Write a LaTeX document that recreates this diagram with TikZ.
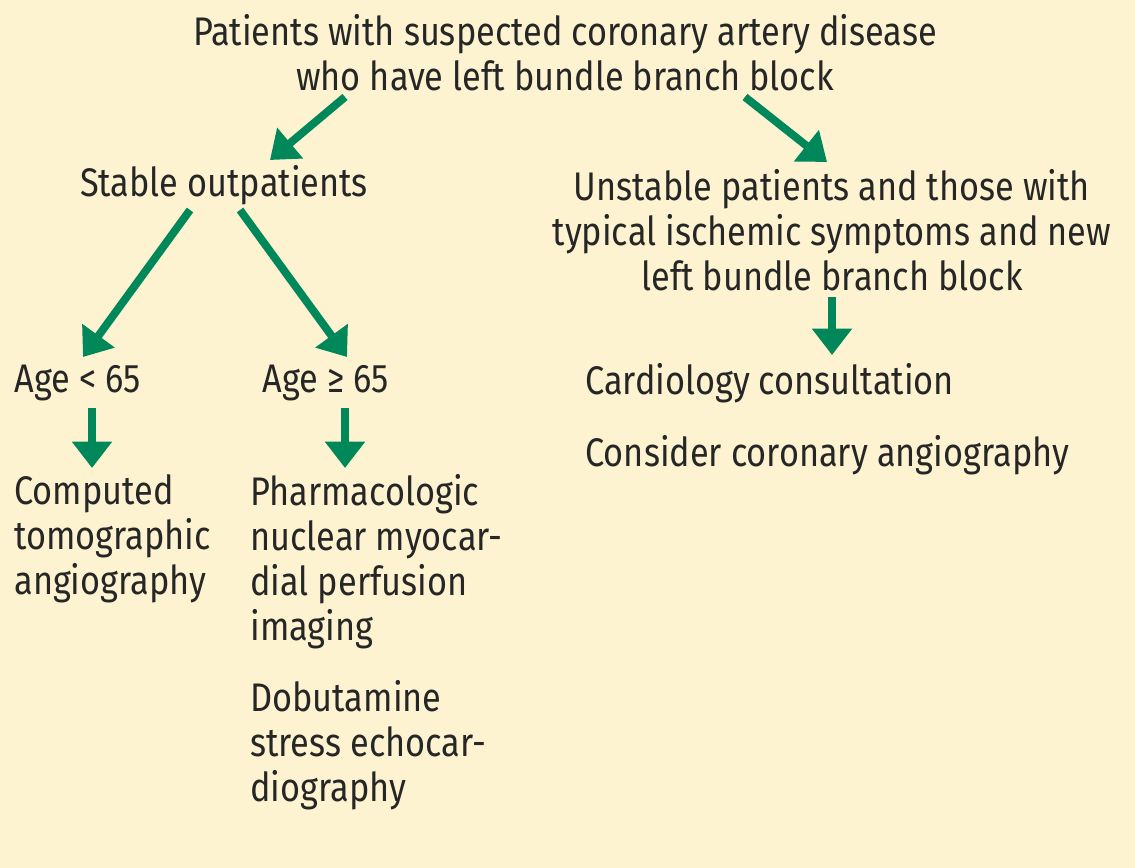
\documentclass[tikz,border=0pt]{standalone}
\usepackage{fontspec}
\setmainfont{Fira Sans}[FakeStretch=0.86]
\usetikzlibrary{arrows.meta}
\definecolor{cream}{HTML}{FDF3D0}
\definecolor{arrgreen}{HTML}{00875A}
\tikzset{
  txt/.style={inner sep=0pt, align=left, font=\fontsize{22.7}{25.6}\selectfont, text=black!85},
  ctxt/.style={txt, align=center},
  arr/.style={draw=arrgreen, line width=4.5pt, -{Triangle[length=15pt,width=22pt]}},
}
\begin{document}
\begin{tikzpicture}[x=0.02cm, y=-0.02cm]
    % Background.
    \fill[cream] (0,0) rectangle (1135,868);

    % Write the texts.
    \node[ctxt] (title) at (565,53) {Patients with suspected coronary artery disease\\who have left bundle branch block};
    \node[ctxt] (stable) at (224,185) {Stable outpatients};
    \node[ctxt] (unstable) at (832,230) {Unstable patients and those with\\typical ischemic symptoms and new\\left bundle branch block};
    \node[txt, anchor=west] (young) at (14,383) {Age < 65};
    \node[txt, anchor=west] (old) at (262,383) {Age ≥ 65};
    \node[txt, anchor=north west] (ct) at (14,474) {Computed\\tomographic\\angiography};
    \node[txt, anchor=north west] (nuc) at (250,474) {Pharmacologic\\nuclear myocar-\\dial perfusion\\imaging};
    \node[txt, anchor=north west] (dob) at (250,680) {Dobutamine\\stress echocar-\\diography};
    \node[txt, anchor=west] (cardio) at (585,383) {Cardiology consultation};
    \node[txt, anchor=west] (angio) at (585,455) {Consider coronary angiography};

    % Arrow ends.
    \coordinate (t1) at (345,97);   \coordinate (s0) at (270,160);
    \coordinate (t2) at (745,97);   \coordinate (u0) at (827,162);
    \coordinate (s1) at (190,210);  \coordinate (y0) at (83,357);
    \coordinate (s2) at (240,210);  \coordinate (o0) at (347,357);
    \coordinate (u1) at (832,297);  \coordinate (c0) at (832,355);
    \coordinate (y1) at (92,408);   \coordinate (ct0) at (92,468);
    \coordinate (o1) at (345,408);  \coordinate (n0) at (345,468);

    % Draw the arrows.
    \draw[arr] (t1) -- (s0);
    \draw[arr] (t2) -- (u0);
    \draw[arr] (s1) -- (y0);
    \draw[arr] (s2) -- (o0);
    \draw[arr] (u1) -- (c0);
    \draw[arr] (y1) -- (ct0);
    \draw[arr] (o1) -- (n0);
\end{tikzpicture}
\end{document}
